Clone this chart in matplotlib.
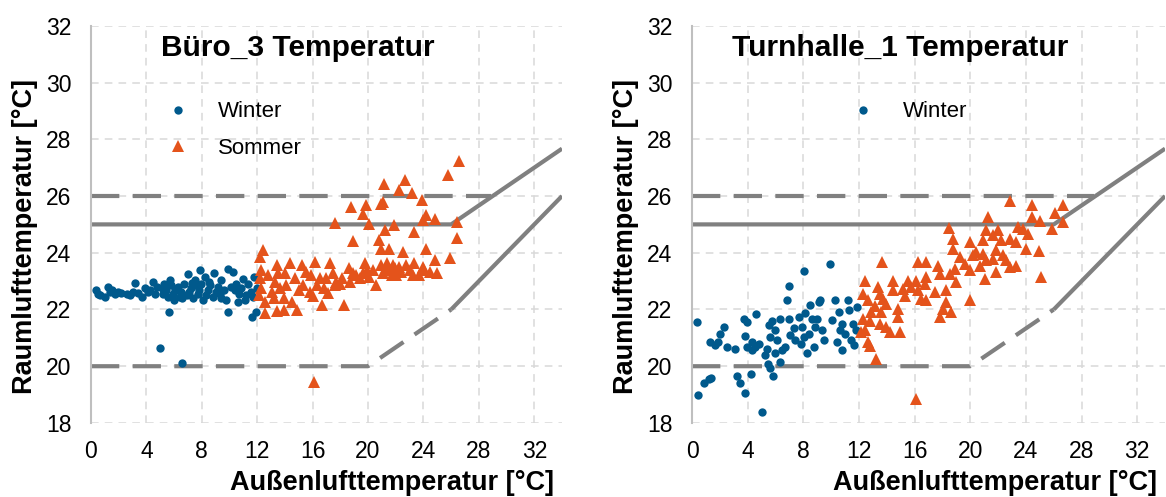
import matplotlib.pyplot as plt
import numpy as np

plt.rcParams['font.family'] = ['Liberation Sans', 'DejaVu Sans']

# Büro_3 - Winter
b_win_x = [0.34, 0.65, 1.0, 1.25, 1.37, 1.73, 1.97, 2.2, 2.57, 3.17, 3.05, 3.4, 3.65, 3.9, 4.25,
           4.5, 4.6, 5.3, 5.45, 5.55, 5.6, 5.8, 5.9, 6.0, 6.3, 6.5, 6.75, 6.9, 7.0, 7.25,
           7.5, 7.7, 7.85, 7.96, 8.1, 8.2, 8.45, 8.55, 8.8, 8.9, 9.15, 9.4, 9.4, 9.9, 9.9,
           10.25, 10.5, 10.7, 10.8, 11.1, 11.3, 11.55, 11.6, 11.8, 11.9, 12.0, 4.96, 6.6,
           5.7, 6.4, 7.1, 7.6, 8.3, 9.0, 9.6, 10.1, 10.95, 10.6, 9.75, 6.05, 7.4, 5.1, 4.75,
           5.2, 6.2, 6.6, 7.3, 7.8, 8.6, 9.3, 10.4, 11.2, 11.7, 0.5, 1.5, 2.8, 4.1]
b_win_y = [22.68, 22.5, 22.45, 22.8, 22.62, 22.56, 22.62, 22.59, 22.56, 22.95, 22.62, 22.59, 22.45, 22.74, 22.68,
           22.97, 22.56, 22.91, 22.68, 22.45, 21.92, 22.86, 22.56, 22.33, 22.8, 22.62, 22.91, 22.5, 23.24, 22.74,
           23.03, 22.56, 23.38, 22.91, 22.33, 23.15, 22.68, 22.97, 22.45, 23.27, 22.8, 23.03, 22.39, 23.44, 21.92,
           23.32, 22.91, 22.56, 22.74, 22.33, 22.91, 22.62, 21.74, 23.15, 21.92, 22.74, 20.65, 20.12,
           23.03, 22.45, 22.62, 22.86, 22.5, 22.62, 22.68, 22.8, 23.09, 22.27, 22.33, 22.68, 22.39, 22.74, 22.8,
           22.55, 22.7, 22.4, 22.95, 22.7, 22.85, 22.55, 22.7, 22.5, 22.45, 22.55, 22.7, 22.5, 22.6]

# Büro_3 - Sommer
b_som_x = [26.6, 25.8, 22.65, 21.15, 22.25, 23.2, 23.9, 21.1, 19.85, 18.75, 19.65, 20.95, 24.2, 24.8,
           24.0, 26.45, 17.65, 20.05, 21.9, 21.25, 23.3, 26.45, 18.95, 20.8, 20.9, 21.5, 22.5, 24.2,
           25.95, 24.85, 24.95,
           12.4, 12.2, 12.3, 12.2, 12.3, 12.15, 12.55, 12.55, 13.4, 13.5, 13.3, 13.65, 13.9, 13.4,
           14.35, 14.7, 14.1, 14.5, 14.85, 15.2, 15.3, 15.9, 16.15, 16.3, 16.05, 16.65, 16.5, 17.25,
           17.5, 17.6, 17.1, 18.25, 18.15, 18.6, 18.7, 19.15, 19.75, 19.65, 20.1, 20.6, 20.95, 21.1,
           21.35, 21.55, 21.8, 22.05, 21.95, 22.75, 23.0, 23.35, 23.25, 23.95, 24.05, 24.45, 23.7,
           17.0, 15.55, 17.7, 19.4, 20.35, 22.4, 13.05, 13.9, 15.05, 16.1,
           12.8, 13.2, 14.0, 15.8, 16.8, 18.0, 18.9, 19.9, 21.3, 21.7, 22.2]
b_som_y = [27.25, 26.73, 26.58, 26.43, 26.2, 26.12, 25.85, 25.79, 25.67, 25.61, 25.38, 25.73, 25.32, 25.2,
           25.15, 25.09, 25.05, 25.03, 24.97, 24.8, 24.74, 24.53, 24.42, 24.44, 24.15, 24.12, 24.03, 24.15,
           23.8, 23.74, 23.3,
           24.09, 23.86, 23.39, 23.1, 22.75, 22.51, 22.28, 21.87, 23.57, 23.27, 22.98, 22.75, 22.4, 21.93,
           23.63, 23.1, 22.87, 22.28, 21.99, 23.57, 22.87, 23.22, 23.68, 22.87, 22.46, 22.16, 23.1, 23.63,
           23.27, 22.87, 22.57, 22.16, 23.1, 23.45, 22.98, 23.22, 23.63, 23.27, 23.16, 22.87, 23.57, 23.27,
           23.63, 23.39, 23.57, 23.22, 23.45, 23.57, 23.39, 23.63, 23.22, 23.51, 23.39, 23.33, 23.22,
           23.1, 23.33, 22.98, 23.1, 23.39, 23.33, 22.63, 21.99, 22.69, 19.45,
           23.2, 22.4, 23.3, 22.6, 22.75, 22.9, 23.3, 23.4, 23.45, 23.2, 23.5]

# Turnhalle_1 - Winter
t_win_x = [0.36, 0.4, 0.84, 1.2, 1.4, 1.3, 1.68, 1.9, 2.04, 2.28, 2.52, 3.07, 3.24, 3.43, 3.84,
           3.8, 3.72, 3.96, 4.27, 4.63, 3.96, 4.32, 4.56, 4.8, 5.04, 5.4, 5.47, 5.64, 5.8, 5.5,
           5.76, 6.0, 6.35, 5.64, 6.1, 6.47, 6.35, 6.7, 6.83, 7.0, 6.95, 7.07, 7.3, 7.43, 7.67,
           8.03, 7.9, 8.03, 8.15, 8.27, 8.4, 8.5, 8.63, 8.75, 8.87, 9.0, 9.1, 9.2, 9.35, 9.47,
           9.95, 10.07, 10.3, 10.43, 10.55, 10.67, 10.8, 11.03, 11.22, 11.27, 11.4, 11.6, 11.75, 11.87,
           11.63, 10.8, 7.8, 6.0, 5.28, 4.32]
t_win_y = [21.56, 18.98, 19.41, 19.56, 19.59, 20.86, 20.74, 20.86, 21.15, 21.39, 20.66, 20.6, 19.65, 19.41, 19.06,
           21.06, 21.65, 21.56, 19.74, 21.84, 20.68, 20.86, 20.68, 20.8, 18.39, 20.62, 20.09, 19.92, 19.65, 21.45,
           21.59, 21.27, 21.68, 21.04, 20.92, 20.56, 20.15, 20.68, 22.33, 22.84, 21.68, 21.09, 21.33, 20.92, 21.74,
           23.36, 21.39, 21.04, 21.86, 20.45, 21.15, 22.15, 21.68, 20.68, 21.39, 21.68, 22.27, 22.33, 21.27, 20.92,
           23.6, 21.62, 22.35, 20.86, 21.92, 21.27, 20.56, 21.15, 22.35, 21.98, 20.92, 21.5, 21.27, 22.09,
           20.74, 21.5, 20.8, 20.45, 20.39, 20.56]

# Turnhalle_1 - Sommer
t_som_x = [22.84, 24.4, 26.68, 26.08, 24.4, 25.0, 26.63, 25.84, 21.28, 18.48, 21.16, 22.0, 21.64, 23.44,
           23.8, 24.16, 18.76, 19.96, 20.92, 22.24, 22.84, 23.32, 24.04, 24.95, 18.76, 19.24, 19.6, 20.2,
           20.44, 20.92, 21.16, 21.64, 21.88, 22.36, 22.6, 22.84, 23.32, 20.68, 19.96, 18.88, 18.52, 21.04,
           21.88, 25.05, 13.68, 16.24, 16.84, 17.68, 17.8, 16.84, 16.72, 16.12, 15.52, 15.16, 15.28, 15.76,
           16.24, 16.48, 16.84, 17.44, 18.28, 18.28, 18.04, 17.8, 18.64, 19.0, 20.0, 14.44, 14.44, 12.4,
           12.28, 12.65, 13.37, 13.49, 13.73, 13.13, 13.6, 13.97, 12.89, 13.49, 12.4, 12.28, 14.2, 14.92,
           14.8, 14.8, 12.77, 12.65, 13.25, 16.12, 12.17, 12.77, 13.97]
t_som_y = [25.82, 25.67, 25.67, 25.41, 25.26, 25.12, 25.1, 24.85, 25.26, 24.88, 24.79, 24.79, 24.61, 24.91,
           24.85, 24.67, 24.49, 24.38, 24.44, 24.44, 24.49, 24.38, 24.14, 24.05, 24.14, 23.85, 23.61, 23.91,
           24.02, 23.96, 23.73, 23.79, 24.08, 23.91, 23.73, 23.49, 23.55, 23.55, 23.38, 23.44, 23.26, 23.08,
           23.32, 23.16, 23.67, 23.67, 23.67, 23.55, 23.26, 23.14, 22.91, 23.02, 23.02, 22.73, 22.49, 22.79,
           22.67, 22.38, 22.32, 22.61, 22.67, 22.26, 22.02, 21.73, 21.91, 22.96, 22.32, 23.02, 22.67, 23.02,
           22.55, 22.32, 22.79, 22.55, 22.38, 22.14, 21.91, 22.2, 21.91, 21.49, 21.26, 21.67, 21.2, 21.2,
           22.02, 21.73, 20.73, 20.85, 20.26, 18.85, 21.2, 21.61, 21.38]

# Grenzlinien
upper_x = [0, 26, 34]
upper_y = [25, 25, 27.67]
upper_dash_x = [0, 28.9]
upper_dash_y = [26, 26]
lower_dash_x = [0, 20, 26]
lower_dash_y = [20, 20, 22]
lower_x = [26, 34]
lower_y = [22, 26]

xticks = [0, 4, 8, 12, 16, 20, 24, 28, 32]
yticks = [18, 20, 22, 24, 26, 28, 30, 32]

blue = '#00598c'
orange = '#e4531b'
gray = '#808080'

fig = plt.figure(figsize=(11.66, 4.97), dpi=100)
ax1 = fig.add_axes([0.078, 0.149, 0.404, 0.799])
ax2 = fig.add_axes([0.5935, 0.149, 0.4057, 0.799])

panels = [
    (ax1, 'Büro_3 Temperatur', b_win_x, b_win_y, b_som_x, b_som_y, True),
    (ax2, 'Turnhalle_1 Temperatur', t_win_x, t_win_y, t_som_x, t_som_y, False),
]

for ax, title, wx, wy, sx, sy, show_sommer in panels:
    ax.plot(upper_x, upper_y, color=gray, lw=3, solid_capstyle='butt', zorder=2)
    ax.plot(upper_dash_x, upper_dash_y, color=gray, lw=3, ls=(0, (6.8, 3.2)), zorder=2)
    ax.plot(lower_dash_x, lower_dash_y, color=gray, lw=3, ls=(0, (6.8, 3.2)), zorder=2)
    ax.plot(lower_x, lower_y, color=gray, lw=3, solid_capstyle='butt', zorder=2)

    ax.plot(wx, wy, 'o', color=blue, ms=6, mew=0, label='Winter', zorder=3)
    ax.plot(sx, sy, '^', color=orange, ms=8.5, mew=0,
            label='Sommer' if show_sommer else '_nolegend_', zorder=3)

    ax.set_xlim(0, 34)
    ax.set_ylim(18, 32)
    ax.set_xticks(xticks)
    ax.set_yticks(yticks)
    ax.tick_params(axis='both', length=0, labelsize=16.5)
    ax.tick_params(axis='x', pad=12)
    ax.tick_params(axis='y', pad=14)
    ax.grid(True, color='#d9d9d9', lw=1.1, ls=(0, (5, 4)))
    ax.set_axisbelow(True)
    for s in ['top', 'right', 'bottom']:
        ax.spines[s].set_visible(False)
    ax.spines['left'].set_color('#bfbfbf')
    ax.spines['left'].set_linewidth(1.5)

    ax.set_xlabel('Außenlufttemperatur [°C]', fontsize=19.5, fontweight='bold', va='center')
    ax.set_ylabel('Raumlufttemperatur [°C]', fontsize=19.5, fontweight='bold', va='center')
    ax.xaxis.set_label_coords(0.64, -0.15)
    ax.yaxis.set_label_coords(-0.14, 0.47)
    ax.text(0.44, 0.945, title, transform=ax.transAxes, ha='center', va='center',
            fontsize=21.5, fontweight='bold')
    ax.legend(loc='upper left', bbox_to_anchor=(0.113 if show_sommer else 0.291, 0.86),
              frameon=False, fontsize=16, handlelength=1.2, handletextpad=1.2,
              labelspacing=0.7, numpoints=1)

fig.savefig('out.png', dpi=100)
